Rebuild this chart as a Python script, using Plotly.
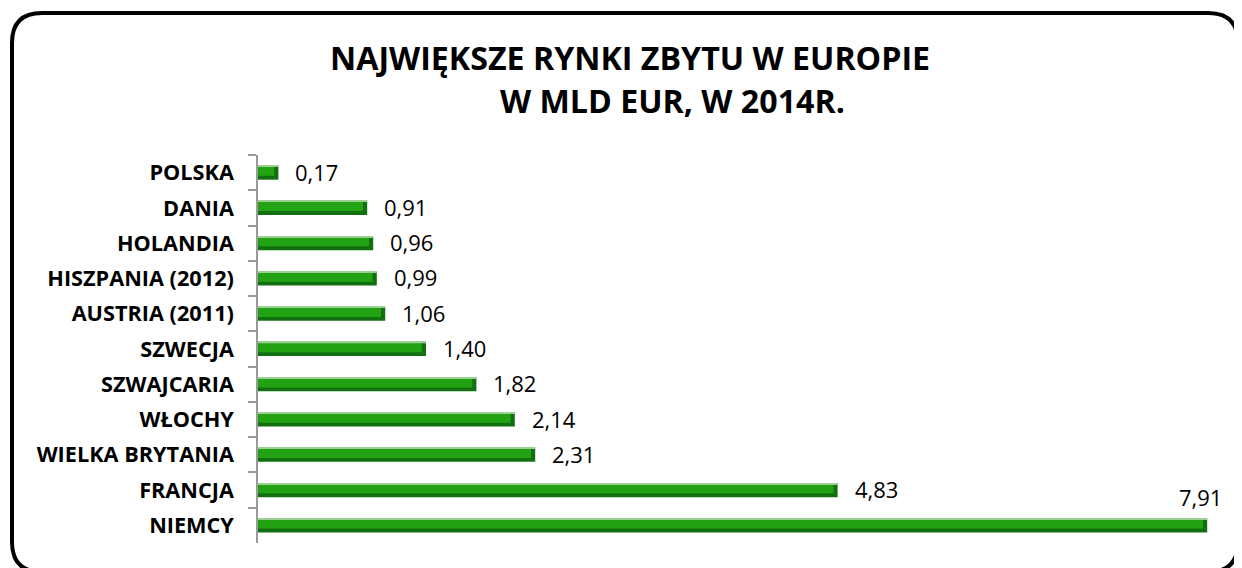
import plotly.graph_objects as go

categories = ["POLSKA", "DANIA", "HOLANDIA", "HISZPANIA (2012)", "AUSTRIA (2011)",
              "SZWECJA", "SZWAJCARIA", "WŁOCHY", "WIELKA BRYTANIA", "FRANCJA", "NIEMCY"]
values = [0.17, 0.91, 0.96, 0.99, 1.06, 1.40, 1.82, 2.14, 2.31, 4.83, 7.91]
title_line1 = "NAJWIĘKSZE RYNKI ZBYTU W EUROPIE"
title_line2 = "W MLD EUR, W 2014R."

# page body has an 8px margin, so the figure is 8px smaller and offset
OFF = 8
W, H = 1242 - OFF, 568 - OFF
ML, MR, MT, MB = 250, 24, 147, 25
PW = W - ML - MR
PH = H - MT - MB
XMAX = 8.0

def px2paper(px, py):
    # px, py in screen pixels
    px -= OFF
    py -= OFF
    return (px - ML) / PW, (H - MB - py) / PH

FONT = "Open Sans, Noto Sans, sans-serif"
BW = 0.4
end_cap = 0.035  # dark right end of each bar (in data units)

fig = go.Figure()
# dark base (bottom band and right cap)
fig.add_trace(go.Bar(
    x=values, y=categories, orientation="h", width=BW, offset=-BW / 2,
    marker=dict(color="#137010", line=dict(width=0)), hoverinfo="x+y",
))
# bright face
fig.add_trace(go.Bar(
    x=[v - end_cap for v in values], y=categories, orientation="h", width=0.29, offset=-BW / 2,
    marker=dict(color="#23a313", line=dict(width=0)), hoverinfo="skip",
))
# light top edge
fig.add_trace(go.Bar(
    x=values, y=categories, orientation="h", width=0.035, offset=-BW / 2,
    marker=dict(color="#9ccf94", line=dict(width=0)), hoverinfo="skip",
))

annotations = []
vmax = max(values)
for c, v in zip(categories, values):
    txt = f"{v:.2f}".replace(".", ",")
    if v == vmax:
        annotations.append(dict(x=v, y=c, xref="x", yref="y", text=txt, showarrow=False,
                                xanchor="right", xshift=17, yshift=28,
                                font=dict(family=FONT, size=22, color="#000")))
    else:
        annotations.append(dict(x=v, y=c, xref="x", yref="y", text=txt, showarrow=False,
                                xanchor="left", xshift=15, yshift=1,
                                font=dict(family=FONT, size=22, color="#000")))

tx1, ty1 = px2paper(630, 57)
tx2, ty2 = px2paper(672, 100)
annotations.append(dict(x=tx1, y=ty1, xref="paper", yref="paper", text=title_line1,
                        showarrow=False, xanchor="center", yanchor="middle",
                        font=dict(family=FONT, size=32.2, color="#000", weight="bold")))
annotations.append(dict(x=tx2, y=ty2, xref="paper", yref="paper", text=title_line2,
                        showarrow=False, xanchor="center", yanchor="middle",
                        font=dict(family=FONT, size=32.2, color="#000", weight="bold")))

# rounded border (screen pixels)
L, R, T, B, r = 12, 1238, 13, 572, 30
pts = [
    ("M", L, T + r), ("Q", L, T, L + r, T), ("L", R - r, T), ("Q", R, T, R, T + r),
    ("L", R, B - r), ("Q", R, B, R - r, B), ("L", L + r, B), ("Q", L, B, L, B - r), ("Z",)
]
path = ""
for p in pts:
    if p[0] == "Z":
        path += " Z"
    elif p[0] == "Q":
        a = px2paper(p[1], p[2]); b = px2paper(p[3], p[4])
        path += f" Q {a[0]:.5f},{a[1]:.5f} {b[0]:.5f},{b[1]:.5f}"
    else:
        a = px2paper(p[1], p[2])
        path += f" {p[0]} {a[0]:.5f},{a[1]:.5f}"

fig.update_layout(
    width=W, height=H,
    margin=dict(l=ML, r=MR, t=MT, b=MB),
    paper_bgcolor="white", plot_bgcolor="white",
    showlegend=False, barmode="overlay",
    annotations=annotations,
    shapes=[dict(type="path", path=path, xref="paper", yref="paper",
                 line=dict(color="black", width=4), layer="above")],
    xaxis=dict(range=[0, XMAX], visible=False, fixedrange=True),
    yaxis=dict(range=[len(categories) - 0.5, -0.5], autorange=False,
               showline=True, linecolor="#9a9a9a", linewidth=1.5,
               ticks="outside", tickson="boundaries", ticklen=8, tickcolor="#9a9a9a",
               tickwidth=1.5, ticklabelstandoff=18,
               tickfont=dict(family=FONT, size=21.7, color="#000", weight="bold"),
               fixedrange=True),
)
fig.write_html("out.html")
